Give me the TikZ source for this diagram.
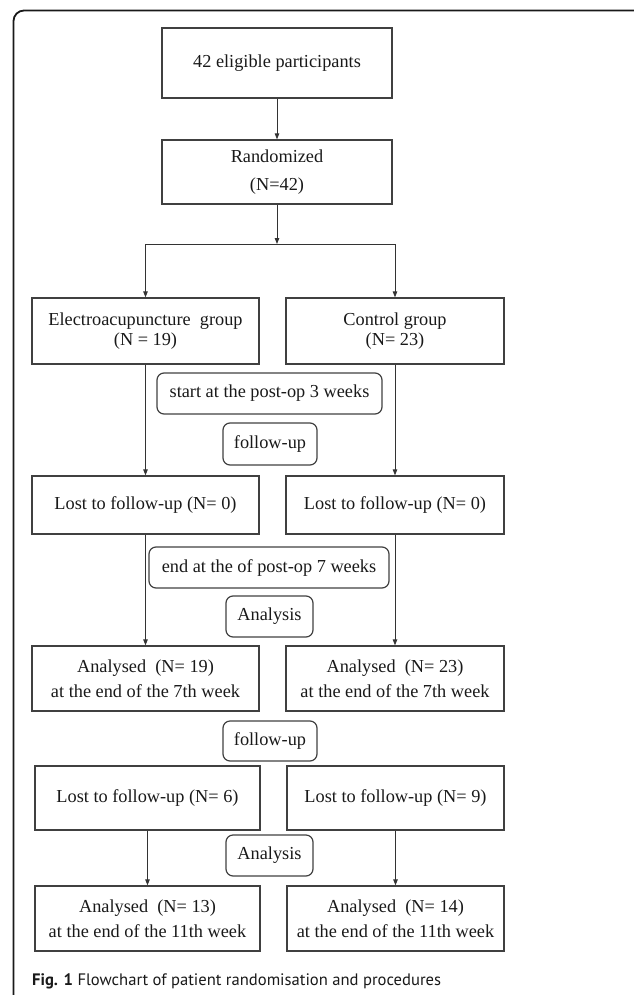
\documentclass[tikz,border=0pt]{standalone}
\usepackage{fontspec}
\setmainfont{Liberation Serif}
\newfontfamily\capfont{PT Sans}
\usetikzlibrary{arrows.meta}

\tikzset{
	box/.style={draw=black!75, line width=1.2pt, text=black!90, align=center, inner sep=0pt,
		font=\fontsize{18.3}{25}\selectfont},
	note/.style={box, rounded corners=7pt},
	arr/.style={draw=black!80, line width=0.9pt, -{Triangle[length=6pt,width=4.5pt]}}
}

\begin{document}
\begin{tikzpicture}[x=1pt, y=-1pt]
		\useasboundingbox (0,0) rectangle (633,995);
		\draw[line width=1.8pt, black!90, rounded corners=10.5pt] (634,10.5) -- (13.5,10.5) -- (13.5,996);
		
		\node[box, minimum width=230, minimum height=70] (elig) at (277,63) {42 eligible participants};
		\node[box, minimum width=230, minimum height=64] (rand) at (277,172) {Randomized\\[3pt](N=42)};
		\coordinate (split) at (277,244);
		
		\node[box, minimum width=227, minimum height=66] (ea)  at (145.5,331) {Electroacupuncture\enspace group\\[-5pt](N = 19)};
		\node[box, minimum width=218, minimum height=66] (ctl) at (395,331)   {Control group\\[-5pt](N= 23)};
		\node[note, minimum width=225, minimum height=41] (start) at (269.5,393.5) {start at the post-op 3 weeks};
		\node[note, minimum width=94,  minimum height=42] (fuA)   at (270,444)     {follow-up};
		
		\node[box, minimum width=227, minimum height=58] (lostA) at (145.5,505) {Lost to follow-up (N= 0)};
		\node[box, minimum width=218, minimum height=58] (lostB) at (395,505)   {Lost to follow-up (N= 0)};
		\node[note, minimum width=240, minimum height=41] (end)  at (269,567.5)   {end at the of post-op 7 weeks};
		\node[note, minimum width=87,  minimum height=41] (anaA) at (269.5,616.5) {Analysis};
		
		\node[box, minimum width=227, minimum height=65] (sevA) at (145.5,678.5) {Analysed\enspace(N= 19)\\at the end of the 7th week};
		\node[box, minimum width=218, minimum height=65] (sevB) at (395,678.5)   {Analysed\enspace(N= 23)\\at the end of the 7th week};
		\node[note, minimum width=94, minimum height=40] (fuB) at (270,741) {follow-up};
		
		\node[box, minimum width=225, minimum height=64] (lostC) at (147.5,798) {Lost to follow-up (N= 6)};
		\node[box, minimum width=217, minimum height=64] (lostD) at (395.5,798) {Lost to follow-up (N= 9)};
		\node[note, minimum width=87, minimum height=41] (anaB) at (269.5,855.5) {Analysis};
		
		\node[box, minimum width=225, minimum height=65] (elvA) at (147.5,918.5) {Analysed\enspace(N= 13)\\at the end of the 11th week};
		\node[box, minimum width=217, minimum height=65] (elvB) at (395.5,918.5) {Analysed\enspace(N= 14)\\at the end of the 11th week};
		
		\draw[arr] (elig) -- (rand);
		\draw[arr] (rand) -- (split);
		\draw[arr] (split) -| (ea);
		\draw[arr] (split) -| (ctl);
		\draw[arr] (ea) -- (lostA);
		\draw[arr] (ctl) -- (lostB);
		\draw[arr] (lostA) -- (sevA);
		\draw[arr] (lostB) -- (sevB);
		\draw[arr] (lostC) -- (elvA);
		\draw[arr] (lostD) -- (elvB);
		
		\node[anchor=base west, inner sep=0pt, text=black!90, font=\capfont\fontsize{16.6}{20}\selectfont] (cap) at (32,985)
			{\textbf{Fig. 1} Flowchart of patient randomisation and procedures};
	\end{tikzpicture}
\end{document}
